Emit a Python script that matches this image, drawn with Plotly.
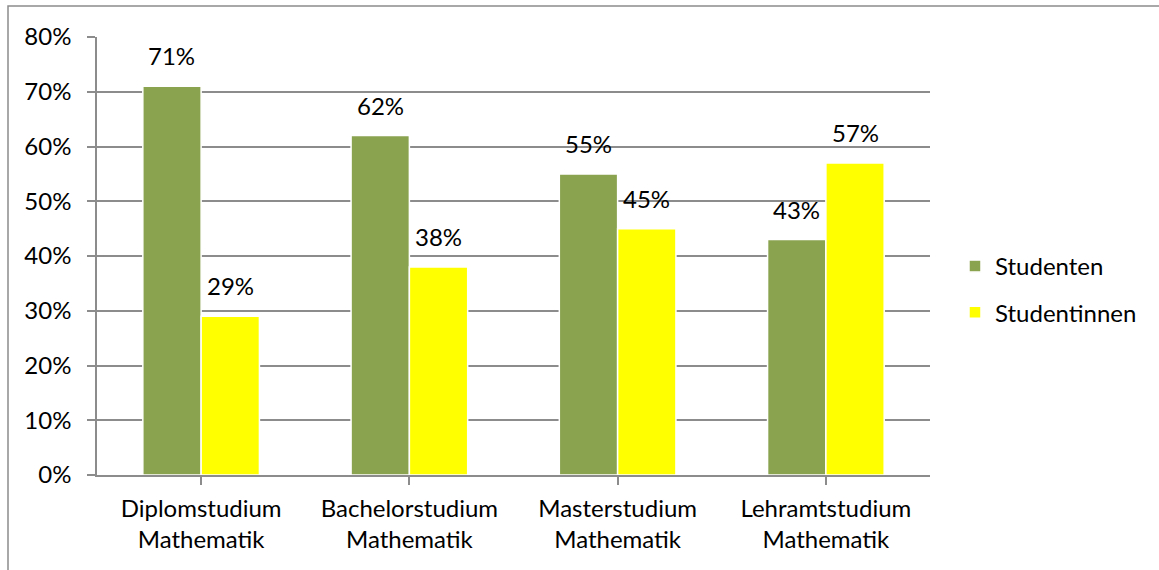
import plotly.graph_objects as go

# Anteile nach Studiengang
categories = ["Diplomstudium<br>Mathematik", "Bachelorstudium<br>Mathematik",
              "Masterstudium<br>Mathematik", "Lehramtstudium<br>Mathematik"]
studenten = [0.71, 0.62, 0.55, 0.43]
studentinnen = [0.29, 0.38, 0.45, 0.57]
series_names = ["Studenten", "Studentinnen"]
y_ticks = [0, 0.1, 0.2, 0.3, 0.4, 0.5, 0.6, 0.7, 0.8]

GREEN = "#8AA34F"
YELLOW = "#FFFF00"
GRID = "#8C8C8C"
FONT = "Lato"
FS = 24
BARGAP = 0.44

W, H = 1159, 570
L, R, T, B = 97, 229, 37, 95
pw, ph = W - L - R, H - T - B

fig = go.Figure()
for name, vals, col in [(series_names[0], studenten, GREEN),
                        (series_names[1], studentinnen, YELLOW)]:
    fig.add_trace(go.Bar(
        name=name, x=list(range(len(categories))), y=vals,
        marker=dict(color=col, line=dict(color="white", width=1.5)),
        legendgroup=name,
    ))

# data labels centred over each bar
off = (1 - BARGAP) / 4
for sign, vals in [(-1, studenten), (1, studentinnen)]:
    for i, v in enumerate(vals):
        fig.add_annotation(x=i + sign * off, y=v, xref="x", yref="y",
                           text=f"{round(v * 100)}%", showarrow=False,
                           yanchor="bottom", yshift=14,
                           font=dict(family=FONT, size=FS, color="#000"))

# outer chart frame
fig.add_shape(type="rect", xref="paper", yref="paper",
              x0=(8 - L) / pw, x1=(1300 - L) / pw,
              y0=(H - B - 700) / ph, y1=(H - B - 6) / ph,
              line=dict(color="#8C8C8C", width=1.5), fillcolor="rgba(0,0,0,0)",
              layer="below")

fig.update_layout(
    width=W, height=H,
    margin=dict(l=L, r=R, t=T, b=B),
    paper_bgcolor="white", plot_bgcolor="white",
    barmode="group", bargap=BARGAP, bargroupgap=0,
    font=dict(family=FONT, size=FS, color="#000"),
    showlegend=True,
    legend=dict(x=1.03, y=0.4235, xanchor="left", yanchor="middle",
                tracegroupgap=12, font=dict(family=FONT, size=FS),
                itemwidth=30, bgcolor="rgba(0,0,0,0)"),
    xaxis=dict(tickmode="array", tickvals=list(range(len(categories))),
               ticktext=categories, tickson="boundaries",
               range=[-0.5, len(categories) - 0.5],
               showline=True, linecolor=GRID, linewidth=1.5,
               ticks="outside", ticklen=8, tickcolor=GRID, tickwidth=1.5,
               showgrid=False, tickfont=dict(size=FS), ticklabelstandoff=3),
    yaxis=dict(range=[0, 0.8], tickvals=y_ticks, tickformat=".0%",
               showline=True, linecolor=GRID, linewidth=1.5,
               ticks="outside", ticklen=8, tickcolor=GRID, tickwidth=1.5,
               showgrid=True, gridcolor=GRID, gridwidth=1.5,
               zeroline=False, tickfont=dict(size=FS), ticklabelstandoff=11),
)

fig.write_html("out.html")
